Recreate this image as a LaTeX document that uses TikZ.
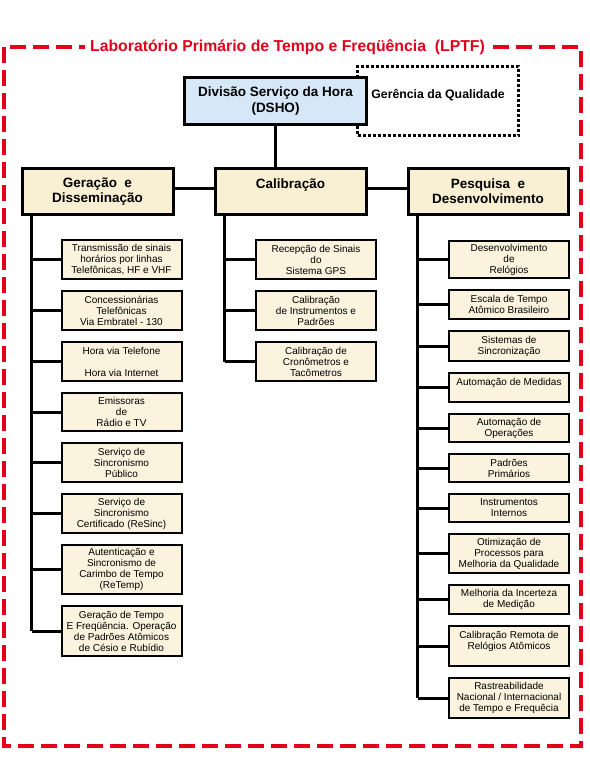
\documentclass[tikz,border=0pt]{standalone}
\usepackage{fontspec}
\setmainfont{Liberation Sans}
\usetikzlibrary{positioning}

\definecolor{lptfred}{RGB}{226,0,26}
\definecolor{itemcream}{RGB}{251,243,221}
\definecolor{headcream}{RGB}{249,239,210}
\definecolor{dshoblue}{RGB}{214,232,247}

\begin{document}
\begin{tikzpicture}[
    x=1pt, y=-1pt,
    node distance=10pt,
    frame/.style={draw=lptfred, line width=3.5pt, dash pattern=on 16pt off 7pt},
    head/.style={draw, line width=3pt, fill=headcream, minimum width=151pt,
        minimum height=46pt, align=center,
        font=\fontsize{13.5}{15}\selectfont\bfseries},
    item/.style={draw, line width=2pt, fill=itemcream, minimum width=120pt,
        inner sep=1pt, align=center, font=\fontsize{10}{11}\selectfont},
    link/.style={line width=3pt},
]
    \useasboundingbox (0,0) rectangle (589,768);

    \draw[frame] (4,47) rectangle (581,746);
    \node[fill=white, text=lptfred, inner xsep=5pt,
          font=\fontsize{15.8}{18}\selectfont\bfseries] (title) at (287.5,47)
        {Laboratório Primário de Tempo e Freqüência\ \ (LPTF)};

    \node[draw, line width=3pt, dash pattern=on 3pt off 2pt,
          minimum width=161pt, minimum height=69pt, align=center,
          font=\fontsize{12.3}{14}\selectfont\bfseries] (qual) at (438,101)
        {Gerência da Qualidade\\~};
    \node[draw, line width=3pt, fill=dshoblue, minimum width=182pt,
          minimum height=47pt, align=center,
          font=\fontsize{13.5}{16}\selectfont\bfseries] (dsho) at (275.5,101)
        {Divisão Serviço da Hora\\(DSHO)};

    \node[head]                                         (cal) at (290.5,191.5) {Calibração\\~};
    \node[head, left=39pt of cal]                       (gen) {Geração\ \ e\\Disseminação};
    \node[head, right=39pt of cal, minimum width=160pt] (pes) {Pesquisa\ \ e\\Desenvolvimento};

    \node[item, minimum height=39pt] (g1) at (121.5,259.5)
        {Transmissão de sinais\\horários por linhas\\Telefônicas, HF e VHF};
    \node[item, minimum height=39pt, below=of g1] (g2)
        {Concessionárias\\Telefônicas\\Via Embratel - 130};
    \node[item, minimum height=39pt, below=of g2] (g3)
        {Hora via Telefone\\~\\Hora via Internet};
    \node[item, minimum height=38pt, below=of g3] (g4)
        {Emissoras\\de\\Rádio e TV};
    \node[item, minimum height=39pt, below=of g4] (g5)
        {Serviço de\\Sincronismo\\Público};
    \node[item, minimum height=39pt, below=of g5] (g6)
        {Serviço de\\Sincronismo\\Certificado (ReSinc)};
    \node[item, minimum height=49pt, below=of g6] (g7)
        {Autenticação e\\Sincronismo de\\Carimbo de Tempo\\(ReTemp)};
    \node[item, minimum height=50pt, below=of g7] (g8)
        {Geração de Tempo\\E Freqüência. Operação\\de Padrões Atômicos\\de Césio e Rubídio};

    \node[item, minimum height=39pt] (c1) at (316,259.5)
        {Recepção de Sinais\\do\\Sistema GPS};
    \node[item, minimum height=39pt, below=of c1] (c2)
        {Calibração\\de Instrumentos e\\Padrões};
    \node[item, minimum height=39pt, below=of c2] (c3)
        {Calibração de\\Cronômetros e\\Tacômetros};

    \node[item, minimum height=37pt] (p1) at (509,259.5)
        {Desenvolvimento\\de\\Relógios};
    \node[item, minimum height=29pt, below=of p1] (p2)
        {Escala de Tempo\\Atômico Brasileiro};
    \node[item, minimum height=30pt, below=of p2] (p3)
        {Sistemas de\\Sincronização};
    \node[item, minimum height=29pt, below=of p3] (p4)
        {Automação de Medidas\\~};
    \node[item, minimum height=28pt, below=of p4] (p5)
        {Automação de\\Operações};
    \node[item, minimum height=28pt, below=of p5] (p6)
        {Padrões\\Primários};
    \node[item, minimum height=28pt, below=of p6] (p7)
        {Instrumentos\\Internos};
    \node[item, minimum height=39pt, below=of p7] (p8)
        {Otimização de\\Processos para\\Melhoria da Qualidade};
    \node[item, minimum height=29pt, below=of p8] (p9)
        {Melhoria da Incerteza\\de Medição};
    \node[item, minimum height=40pt, below=of p9] (p10)
        {Calibração Remota de\\Relógios Atômicos\\~};
    \node[item, minimum height=40pt, below=of p10] (p11)
        {Rastreabilidade\\Nacional / Internacional\\de Tempo e Frequêcia};

    \coordinate (gt) at ([xshift=11pt]gen.south west);
    \coordinate (ct) at ([xshift=11pt]cal.south west);
    \coordinate (pt) at ([xshift=11pt]pes.south west);

    \draw[link] (dsho) -- (dsho |- cal.north);
    \draw[link] ([yshift=3pt]gen.east) -- ([yshift=3pt]cal.west);
    \draw[link] ([yshift=3pt]cal.east) -- ([yshift=3pt]pes.west);

    \draw[link] (gt) -- (gt |- g8);
    \foreach \i in {1,...,8}
        \draw[link] (gt |- g\i) -- (g\i.west);
    \draw[link] (ct) -- (ct |- c3);
    \foreach \i in {1,...,3}
        \draw[link] (ct |- c\i) -- (c\i.west);
    \draw[link] (pt) -- (pt |- p11);
    \foreach \i in {1,...,11}
        \draw[link] (pt |- p\i) -- (p\i.west);
\end{tikzpicture}
\end{document}
